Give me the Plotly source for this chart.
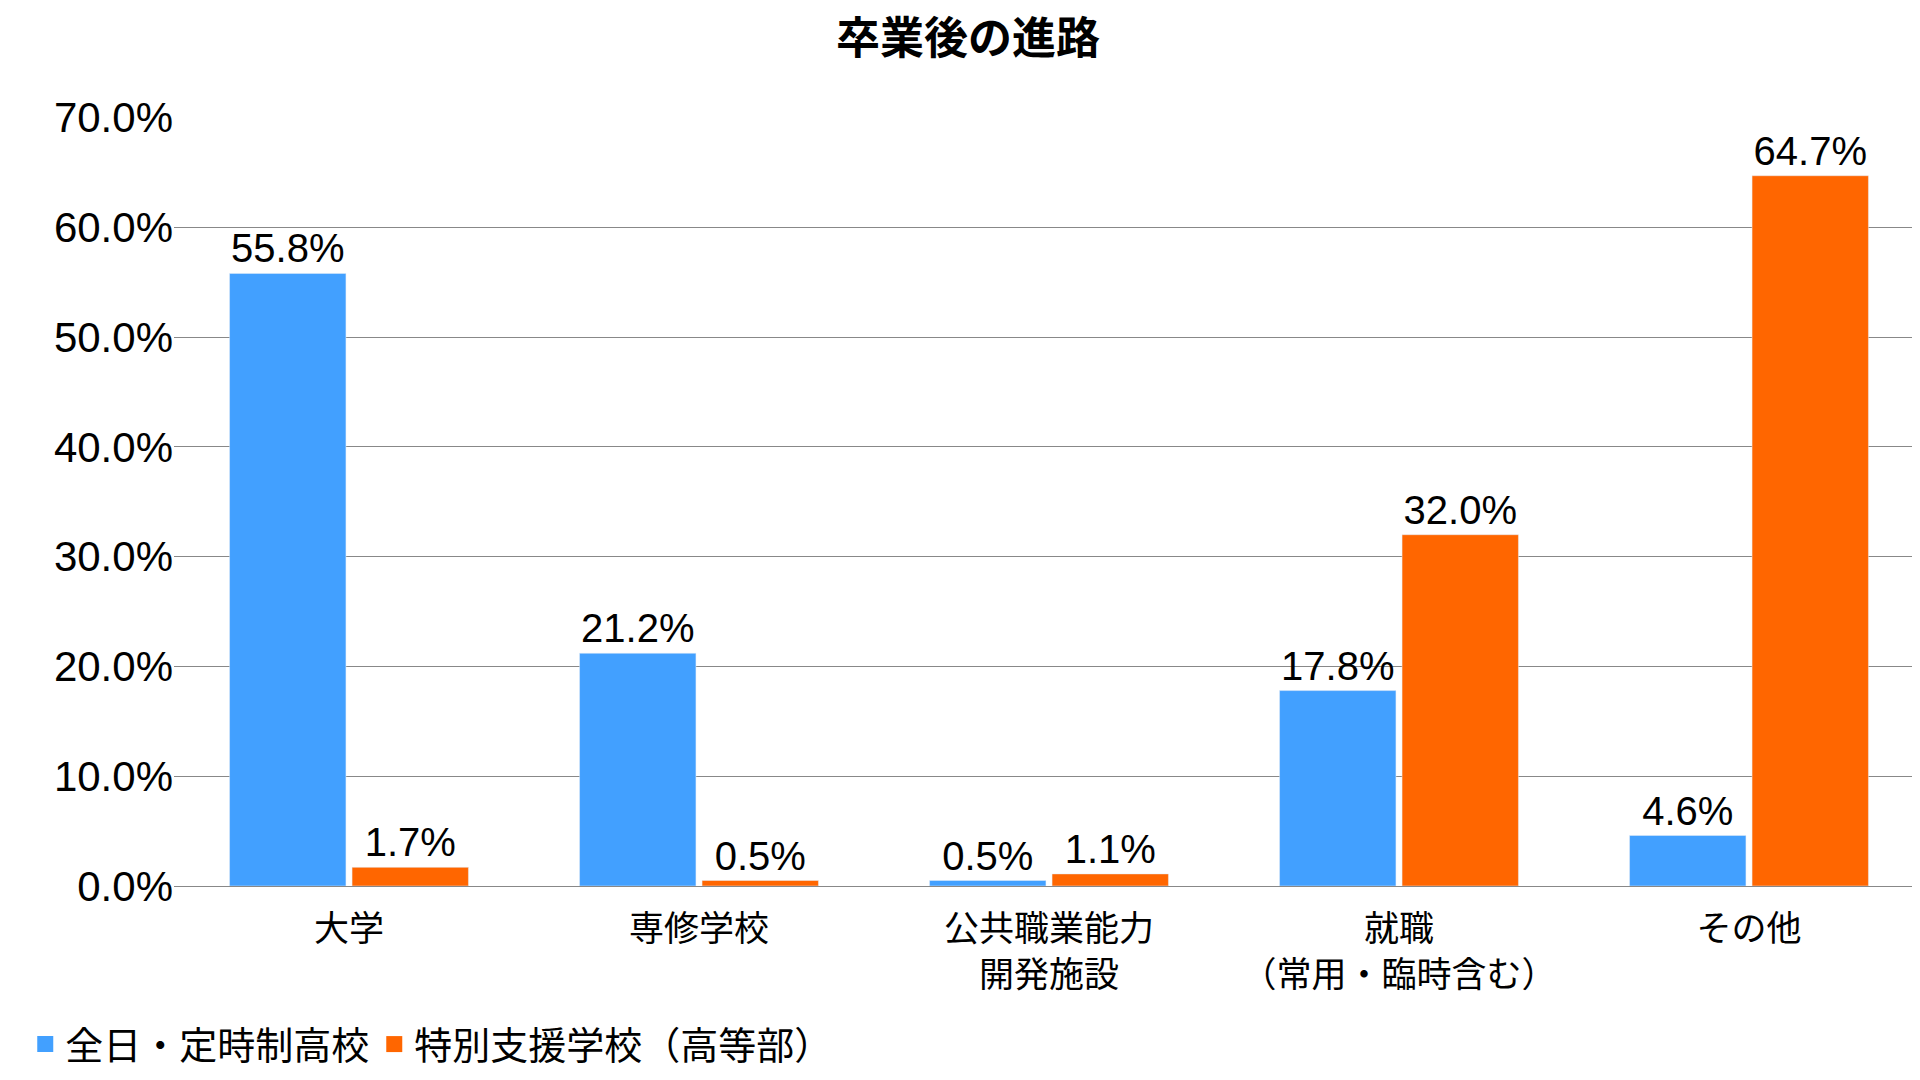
import plotly.graph_objects as go

categories = ["大学", "専修学校", "公共職業能力<br>開発施設", "就職<br>（常用・臨時含む）", "その他"]
zennichi = [55.8, 21.2, 0.5, 17.8, 4.6]
tokubetsu = [1.7, 0.5, 1.1, 32.0, 64.7]
font = "Noto Sans CJK JP"

fig = go.Figure()
for name, vals, color in [
    ("全日・定時制高校", zennichi, "#42A0FF"),
    ("特別支援学校（高等部）", tokubetsu, "#FF6600"),
]:
    fig.add_trace(go.Bar(
        x=categories, y=vals, name=name, marker_color=color, showlegend=False,
        text=[f"{v:.1f}%" for v in vals], textposition="outside",
        textfont=dict(size=40, color="black", family="Liberation Sans"),
        cliponaxis=False,
    ))
    # legend-only entry with a large square swatch
    fig.add_trace(go.Scatter(
        x=[categories[0]], y=[None], mode="markers", name=name,
        marker=dict(symbol="square", size=46, color=color),
    ))

fig.update_layout(
    width=1920, height=1080,
    paper_bgcolor="white", plot_bgcolor="white",
    title=dict(text="<b>卒業後の進路</b>", x=0.5, y=0.972, xanchor="center", yanchor="middle",
               font=dict(size=44, family=font, color="black")),
    margin=dict(l=166, r=4, t=109, b=202),
    barmode="group", bargap=0.3, bargroupgap=0.05,
    font=dict(family=font, color="black"),
    legend=dict(orientation="h", x=-0.085, y=-0.165, xanchor="left", yanchor="top",
                font=dict(size=38, family=font), itemsizing="trace"),
)
fig.update_yaxes(range=[0, 70.05], dtick=10, tickformat=".1f", ticksuffix="%",
                 gridcolor="#888", gridwidth=1, zeroline=False, automargin=False,
                 tickfont=dict(size=42, family="Liberation Sans"), ticklen=0)
fig.update_xaxes(showline=True, linecolor="#888", automargin=False, ticklabelstandoff=12,
                 tickfont=dict(size=35, family=font))
fig.write_html("out.html")
